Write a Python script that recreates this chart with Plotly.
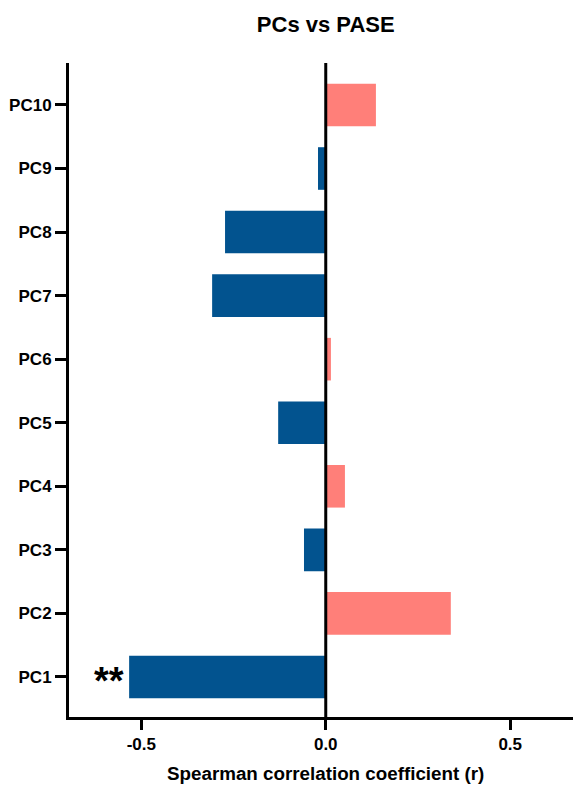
import plotly.graph_objects as go

categories = ["PC1", "PC2", "PC3", "PC4", "PC5", "PC6", "PC7", "PC8", "PC9", "PC10"]
values = [-0.533, 0.339, -0.059, 0.052, -0.129, 0.014, -0.308, -0.273, -0.021, 0.136]
x_ticks = [-0.5, 0.0, 0.5]
x_tick_labels = ["-0.5", "0.0", "0.5"]
significance = {"PC1": "**"}
x_title = "Spearman correlation coefficient (r)"
chart_title = "PCs vs PASE"

BLUE = "#02538f"
PINK = "#ff7f79"
positions = list(range(1, len(categories) + 1))
colors = [PINK if v > 0 else BLUE for v in values]

# page body has an 8px default margin, so the figure is offset by 8px
W, H = 590, 777
X_RANGE = [-0.696, 0.738]

fig = go.Figure()
fig.add_trace(go.Bar(
    x=values, y=positions, orientation="h", width=0.67,
    marker=dict(color=colors, line=dict(width=0)),
))

font_family = "Liberation Sans, Arial, sans-serif"

for cat, txt in significance.items():
    i = categories.index(cat)
    fig.add_annotation(x=values[i], y=positions[i], text="<b>" + txt + "</b>",
                       xanchor="right", yanchor="middle", showarrow=False, xshift=-3, yshift=-4,
                       font=dict(size=38, color="black", family=font_family))

# x-axis title, centred over x = 0 like the reference
fig.add_annotation(x=0.0, xref="x", y=0, yref="paper", yshift=-56,
                   text="<b>" + x_title + "</b>", showarrow=False,
                   xanchor="center", yanchor="middle",
                   font=dict(size=18.8, color="black", family=font_family))

# zero line
fig.add_shape(type="line", xref="x", yref="paper", x0=0, x1=0, y0=0, y1=1,
              line=dict(color="black", width=3))

fig.update_layout(
    width=W, height=H,
    margin=dict(l=60.5, r=0, t=54.5, b=67.5),
    plot_bgcolor="white", paper_bgcolor="white",
    showlegend=False,
    title=dict(text="<b>" + chart_title + "</b>",
               x=(0.0 - X_RANGE[0]) / (X_RANGE[1] - X_RANGE[0]), xref="paper", xanchor="center",
               y=1 - 16 / H, yanchor="middle",
               font=dict(size=22, color="black", family=font_family)),
    font=dict(family=font_family, color="black"),
    xaxis=dict(range=X_RANGE, tickvals=x_ticks,
               ticktext=["<b>" + t + "</b>" for t in x_tick_labels],
               showline=True, linecolor="black", linewidth=3,
               ticks="outside", ticklen=10, tickwidth=3, tickcolor="black",
               showgrid=False, zeroline=False,
               tickfont=dict(size=17, family=font_family)),
    yaxis=dict(range=[0.37, 10.66], tickvals=positions,
               ticktext=["<b>" + c + "</b>" for c in categories],
               showline=True, linecolor="black", linewidth=3,
               ticks="outside", ticklen=11, tickwidth=3, tickcolor="black",
               showgrid=False, zeroline=False,
               tickfont=dict(size=17, family=font_family)),
)

fig.write_html("out.html")
